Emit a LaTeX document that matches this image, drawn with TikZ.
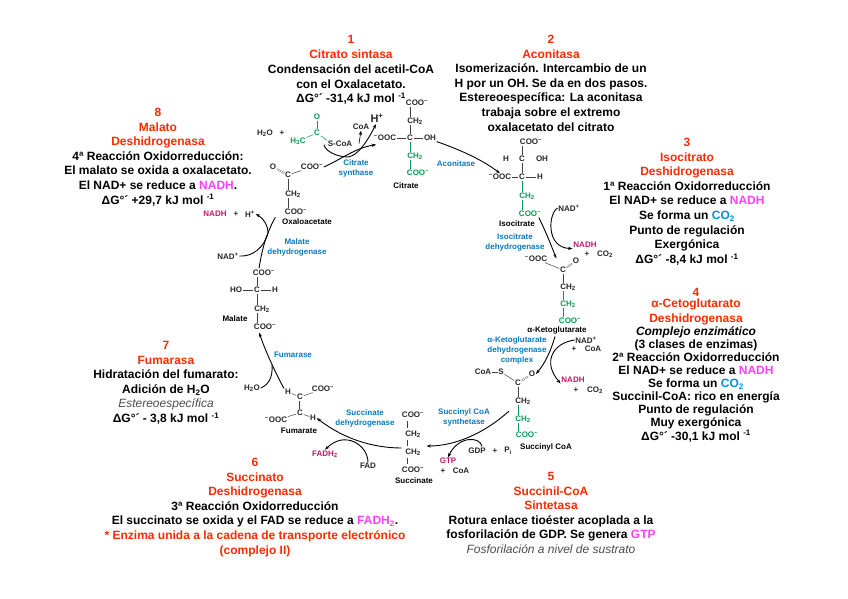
\documentclass[tikz,border=0pt]{standalone}
\usepackage{fontspec}
\setmainfont{Liberation Sans}
\usetikzlibrary{arrows.meta}
\definecolor{hd}{HTML}{FF2A00}
\definecolor{mg}{HTML}{FF40FF}
\definecolor{cob}{HTML}{0090E0}
\definecolor{crim}{HTML}{C0186A}
\definecolor{enz}{HTML}{0A78B8}
\definecolor{grn}{HTML}{0A9A50}
\newcommand{\R}[1]{\textcolor{hd}{#1}}
\newcommand{\M}[1]{\textcolor{mg}{#1}}
\newcommand{\Sb}[1]{\textsubscript{#1}}
\newcommand{\Sp}[1]{\textsuperscript{#1}}
\newcommand{\CH}{CH\Sb{2}}
\newcommand{\COO}{COO\Sp{--}}
\newcommand{\OOC}{\Sp{--}OOC}
\tikzset{
  x=1pt,y=-1pt,
  block/.style={inner sep=0pt,align=center,anchor=north,font=\fontsize{12}{14.6}\selectfont\bfseries},
  tight/.style={font=\fontsize{12}{13.1}\selectfont\bfseries},
  chem/.style={inner sep=0.6pt,font=\fontsize{8}{8}\selectfont\bfseries,text=black!85},
  cgrn/.style={chem,text=grn},
  cmag/.style={chem,text=crim},
  lab/.style={chem,font=\fontsize{8}{8}\selectfont\bfseries,text=black},
  enzyme/.style={inner sep=0pt,align=center,font=\fontsize{8}{10}\selectfont\bfseries,text=enz},
  bond/.style={line width=0.5pt,draw=black!75},
  gbond/.style={line width=0.5pt,draw=grn},
  dbl/.style={bond,double,double distance=0.8pt,line width=0.35pt},
  rx/.style={line width=0.9pt,-{Stealth[length=4.5pt,width=3.2pt]}},
  rxn/.style={line width=0.9pt}
}
\begin{document}
\begin{tikzpicture}
\useasboundingbox (0,0) rectangle (848,599);
% ---- text blocks
\node[block] (t1) at (351,35) {\R{1}\\\R{Citrato sintasa}\\[1pt]Condensación del acetil-CoA\\con el Oxalacetato.\\ΔG°´ -31,4 kJ mol \Sp{-1}};
\node[block] (t2) at (551,35) {\R{2}\\\R{Aconitasa}\\Isomerización. Intercambio de un\\H por un OH. Se da en dos pasos.\\Estereoespecífica: La aconitasa\\trabaja sobre el extremo\\oxalacetato del citrato};
\node[block] (t3) at (687,138) {\R{3}\\\R{Isocitrato}\\\R{Deshidrogenasa}\\1ª Reacción Oxidorreducción\\El NAD+ se reduce a \M{NADH}\\Se forma un \textcolor{cob}{CO\Sb{2}}\\Punto de regulación\\Exergónica\\ΔG°´ -8,4 kJ mol \Sp{-1}};
\node[block,tight] (t4) at (696,288) {\R{4}\\[-2pt]\R{α-Cetoglutarato}\\[1.5pt]\R{Deshidrogenasa}\\\textit{Complejo enzimático}\\(3 clases de enzimas)\\2ª Reacción Oxidorreducción\\El NAD+ se reduce a \M{NADH}\\Se forma un \textcolor{cob}{CO\Sb{2}}\\Succinil-CoA: rico en energía\\Punto de regulación\\Muy exergónica\\ΔG°´ -30,1 kJ mol \Sp{-1}};
\node[block] (t5) at (551,472) {\R{5}\\\R{Succinil-CoA}\\\R{Sintetasa}\\Rotura enlace tioéster acoplada a la\\fosforilación de GDP. Se genera \M{GTP}\\{\normalfont\itshape\color{black!70}Fosforilación a nivel de sustrato}};
\node[block] (t6) at (255,458) {\R{6}\\\R{Succinato}\\\R{Deshidrogenasa}\\3ª Reacción Oxidorreducción\\El succinato se oxida y el FAD se reduce a \M{FADH\Sb{2}}.\\\R{* Enzima unida a la cadena de transporte electrónico}\\\R{(complejo II)}};
\node[block] (t7) at (166,341) {\R{7}\\\R{Fumarasa}\\Hidratación del fumarato:\\Adición de H\Sb{2}O\\{\normalfont\itshape\color{black!70}Estereoespecífica}\\ΔG°´ - 3,8 kJ mol \Sp{-1}};
\node[block] (t8) at (158,108) {\R{8}\\\R{Malato}\\\R{Deshidrogenasa}\\4ª Reacción Oxidorreducción:\\El malato se oxida a oxalacetato.\\El NAD+ se reduce a \M{NADH}.\\ΔG°´ +29,7 kJ mol \Sp{-1}};
% ---- citrate
\node[chem] (citT) at (417,103) {\COO};
\node[chem] (citA) at (415,121) {\CH};
\node[chem] (citC) at (410,138) {C};
\node[chem] (citL) at (385,138) {\OOC};
\node[chem] (citR) at (430,138) {OH};
\node[cgrn] (citB) at (415,156) {\CH};
\node[cgrn] (citG) at (418,173) {\COO};
\node[lab] (citN) at (406,186) {Citrate};
\draw[bond] (citC.north) -- (citC.north |- citA.south);
\draw[bond] (citC.north |- citA.north) -- (citC.north |- citT.south);
\draw[bond] (citL) -- (citC);
\draw[bond] (citC) -- (citR);
\draw[gbond] (citC.south) -- (citC.south |- citB.north);
\draw[gbond] (citC.south |- citB.south) -- (citC.south |- citG.north);
% ---- acetyl-CoA
\node[chem] (h2oA) at (265,133) {H\Sb{2}O};
\node[chem] (plA) at (282,133) {+};
\node[cgrn] (acO) at (317,117) {O};
\node[cgrn] (acC) at (317,133) {C};
\node[cgrn] (acM) at (298,141) {H\Sb{3}C};
\node[chem] (acS) at (340,144) {S-CoA};
\draw[gbond] (acO) -- (acC);
\draw[gbond] (acM) -- (acC);
\draw[gbond] (acC) -- (acS.north west);
\node[chem] (coaA) at (361,127) {CoA};
\node[chem,font=\fontsize{11}{12}\selectfont\bfseries] (hplus) at (377,118) {H\Sp{+}};
\node[enzyme] (eCS) at (356,168) {Citrate\\synthase};
% ---- oxaloacetate
\node[chem] (oaaO) at (273,167) {O};
\node[chem] (oaaC) at (288,175) {C};
\node[chem] (oaaR) at (312,167) {\COO};
\node[chem] (oaaA) at (293,194) {\CH};
\node[chem] (oaaB) at (296,212) {\COO};
\node[lab] (oaaN) at (307,222) {Oxaloacetate};
\draw[dbl] (oaaO) -- (oaaC);
\draw[bond] (oaaC) -- (oaaR);
\draw[bond] (oaaC.south) -- (oaaC.south |- oaaA.north);
\draw[bond] (oaaC.south |- oaaA.south) -- (oaaC.south |- oaaB.north);
% citrate synthase reaction
\coordinate (csJ) at (348,157);
\draw[rx] (oaaR.east) .. controls (340,160) and (355,148) .. ([shift={(3,3)}]citL.south west);
\draw[rxn] (acS.south west) ++(-3,-3) coordinate (csS) .. controls (325,151) and (337,157) .. (csJ);
\draw[rx] (csJ) .. controls (358,156) and (368,140) .. ([shift={(-1,1)}]hplus.south);
\draw[rx,line width=0.6pt] (coaA.south) ++(-2,13) coordinate (coaS) -- (coaA.south);
% ---- aconitase
\node[enzyme] (eAc) at (456,164) {Aconitase};
\node[chem] (isoT) at (531,142) {\COO};
\node[chem] (isoC1) at (522,159) {C};
\node[chem] (isoH1) at (506,159) {H};
\node[chem] (isoOH) at (542,159) {OH};
\node[chem] (isoC2) at (522,177) {C};
\node[chem] (isoL) at (500,177) {\OOC};
\node[chem] (isoH2) at (540,177) {H};
\node[cgrn] (isoA) at (527,196) {\CH};
\node[cgrn] (isoB) at (530,214) {\COO};
\node[lab] (isoN) at (517,224) {Isocitrate};
\draw[bond] (isoC1.north) -- (isoC1.north |- isoT.south);
\draw[bond] (isoC1) -- (isoC2);
\draw[bond] (isoL) -- (isoC2);
\draw[bond] (isoC2) -- (isoH2);
\draw[gbond] (isoC2.south) -- (isoC2.south |- isoA.north);
\draw[gbond] (isoC2.south |- isoA.south) -- (isoC2.south |- isoB.north);
\draw[rx] (citR.south east) .. controls (455,148) and (480,158) .. (isoL.north);
% ---- isocitrate DH
\node[enzyme] (eID) at (515,242) {Isocitrate\\dehydrogenase};
\node[chem] (nadA) at (569,208) {NAD\Sp{+}};
\node[cmag] (nadhA) at (585,245) {NADH};
\node[chem] (plB) at (587,254) {+};
\node[chem] (co2A) at (605,254) {CO\Sb{2}};
\node[chem] (kgL) at (536,259) {\OOC};
\node[chem] (kgC) at (563,270) {C};
\node[chem] (kgO) at (576,261) {O};
\node[chem] (kgA) at (568,287) {\CH};
\node[cgrn] (kgB) at (568,304) {\CH};
\node[cgrn] (kgG) at (570,321) {\COO};
\node[lab] (kgN) at (557,330) {α-Ketoglutarate};
\draw[bond] (kgL) -- (kgC);
\draw[dbl] (kgC) -- (kgO);
\draw[bond] (kgC.south) -- (kgC.south |- kgA.north);
\draw[gbond] (kgC.south |- kgA.south) -- (kgC.south |- kgB.north);
\draw[gbond] (kgC.south |- kgB.south) -- (kgC.south |- kgG.north);
\draw[rx] (isoB.south east) ++(-3,0) coordinate (idS) .. controls (546,232) and (551,245) .. ([shift={(-3,-8)}]kgC.north west);
\draw[rx] (nadA.west) .. controls (548,214) and (546,248) .. (nadhA.south west);
% ---- aKG DH
\node[enzyme] (eKD) at (517,350) {α-Ketoglutarate\\dehydrogenase\\complex};
\node[chem] (nadB) at (586,340) {NAD\Sp{+}};
\node[chem] (plC) at (574,349) {+};
\node[chem] (coaB) at (593,349) {CoA};
\node[cmag] (nadhB) at (573,380) {NADH};
\node[chem] (plD) at (576,390) {+};
\node[chem] (co2B) at (595,390) {CO\Sb{2}};
\node[chem] (scC) at (518,383) {C};
\node[chem] (scO) at (532,374) {O};
\node[chem] (scS) at (501,372) {S};
\node[chem] (scCoA) at (483,372) {CoA};
\node[chem] (scA) at (523,401) {\CH};
\node[cgrn] (scB) at (523,419) {\CH};
\node[cgrn] (scG) at (527,435) {\COO};
\node[lab] (scN) at (546,447) {Succinyl CoA};
\draw[bond] (scCoA) -- (scS);
\draw[bond] (scS) -- (scC);
\draw[dbl] (scC) -- (scO);
\draw[bond] (scC.south) -- (scC.south |- scA.north);
\draw[gbond] (scC.south |- scA.south) -- (scC.south |- scB.north);
\draw[gbond] (scC.south |- scB.south) -- (scC.south |- scG.north);
\draw[rx] (kgN.south) ++(-2,2) coordinate (kdS) .. controls (551,350) and (546,362) .. (scO.east);
\draw[rx] (nadB.west) .. controls (553,343) and (542,362) .. (nadhB.south west);
% ---- succinyl CoA synthetase
\node[enzyme] (eSS) at (464,417) {Succinyl CoA\\synthetase};
\node[chem] (gdp) at (477,451) {GDP};
\node[chem] (plE) at (495,451) {+};
\node[chem] (pi) at (508,451) {P\Sb{i}};
\node[cmag] (gtp) at (448,461) {GTP};
\node[chem] (plF) at (443,471) {+};
\node[chem] (coaC) at (461,471) {CoA};
% ---- succinate
\node[chem] (suT) at (413,415) {\COO};
\node[chem] (suA) at (413,434) {\CH};
\node[chem] (suB) at (413,452) {\CH};
\node[chem] (suG) at (413,470) {\COO};
\node[lab] (suN) at (414,481) {Succinate};
\draw[bond] (407,421) -- (407,428);
\draw[bond] (407,440) -- (407,446);
\draw[bond] (407,458) -- (407,464);
\coordinate (sgS) at (509,411);
\draw[rx] (sgS) .. controls (485,433) and (455,446) .. ([shift={(5,-6)}]suB.east);
\draw[rx] (gdp.north) ++(5,-1) coordinate (gS) .. controls (480,436) and (458,436) .. (gtp.north);
% ---- succinate DH
\node[enzyme] (eSD) at (365,418) {Succinate\\dehydrogenase};
\node[cmag] (fadh) at (325,454) {FADH\Sb{2}};
\node[chem] (fad) at (368,466) {FAD};
\node[chem] (fuH1) at (288,392) {H};
\node[chem] (fuC1) at (300,397) {C};
\node[chem] (fuR) at (323,389) {\COO};
\node[chem] (fuC2) at (300,413) {C};
\node[chem] (fuH2) at (313,418) {H};
\node[chem] (fuL) at (276,420) {\OOC};
\node[lab] (fuN) at (299,431) {Fumarate};
\draw[bond] (fuH1) -- (fuC1);
\draw[bond] (fuC1) -- (fuR);
\draw[dbl] (fuC1) -- (fuC2);
\draw[bond] (fuC2) -- (fuH2);
\draw[bond] (fuC2) -- (fuL);
\draw[rx] ([shift={(-3,-4)}]suB.west) .. controls (375,448) and (345,440) .. (fuH2.east);
\draw[rx] (fad.north) .. controls (368,445) and (345,430) .. (fadh.north);
% ---- fumarase
\node[enzyme] (eFu) at (293,355) {Fumarase};
\node[chem] (h2oB) at (252,388) {H\Sb{2}O};
\node[chem] (maT) at (264,273) {\COO};
\node[chem] (maHO) at (236,290) {HO};
\node[chem] (maC) at (257,290) {C};
\node[chem] (maH) at (275,290) {H};
\node[chem] (maA) at (262,309) {\CH};
\node[chem] (maB) at (265,327) {\COO};
\node[lab] (maN) at (235,319) {Malate};
\draw[bond] (maC.north) -- (maC.north |- maT.south);
\draw[bond] (maHO) -- (maC);
\draw[bond] (maC) -- (maH);
\draw[bond] (maC.south) -- (maC.south |- maA.north);
\draw[bond] (maC.south |- maA.south) -- (maC.south |- maB.north);
\draw[rx] (fuH1.north) ++(-4,0) coordinate (fmS) .. controls (275,372) and (265,350) .. ([shift={(6,2)}]maB.south west);
\coordinate (fmJ) at (272,365);
\draw[rxn] (h2oB.east) .. controls (268,385) and (273,378) .. (fmJ);
% ---- malate DH
\node[enzyme] (eMD) at (297,247) {Malate\\dehydrogenase};
\node[cmag] (nadhC) at (215,214) {NADH};
\node[chem] (plG) at (236,214) {+};
\node[chem] (hC) at (250,214) {H\Sp{+}};
\node[chem] (nadC) at (228,256) {NAD\Sp{+}};
\coordinate (mdJ) at (268,233);
\draw[rxn] (maT.north) ++(-5,-1) coordinate (mdS) .. controls (262,250) and (265,240) .. (mdJ) .. controls (270,228) and (272,223) .. ([shift={(-6,-1)}]oaaN.north west);
\draw[rx] (nadC.east) .. controls (252,257) and (264,248) .. (mdJ) .. controls (268,225) and (263,218) .. (hC.east);
\end{tikzpicture}
\end{document}
